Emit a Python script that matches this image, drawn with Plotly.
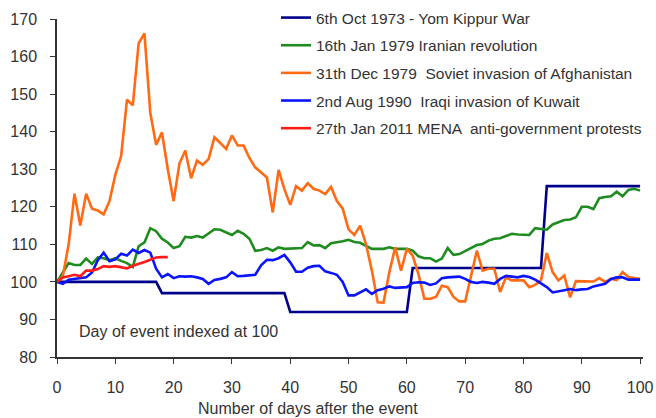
import plotly.graph_objects as go

days = list(range(0, 101))
mena_days = list(range(0, 20))

yom_kippur = [100, 100, 100, 100, 100, 100, 100, 100, 100, 100,
              100, 100, 100, 100, 100, 100, 100, 100, 97, 97,
              97, 97, 97, 97, 97, 97, 97, 97, 97, 97,
              97, 97, 97, 97, 97, 97, 97, 97, 97, 97,
              92, 92, 92, 92, 92, 92, 92, 92, 92, 92,
              92, 92, 92, 92, 92, 92, 92, 92, 92, 92,
              92, 103.7, 103.7, 103.7, 103.7, 103.7, 103.7, 103.7, 103.7, 103.7,
              103.7, 103.7, 103.7, 103.7, 103.7, 103.7, 103.7, 103.7, 103.7, 103.7,
              103.7, 103.7, 103.7, 103.7, 125.5, 125.5, 125.5, 125.5, 125.5, 125.5,
              125.5, 125.5, 125.5, 125.5, 125.5, 125.5, 125.5, 125.5, 125.5, 125.5,
              125.5]

iran = [100, 102.5, 105, 104.5, 104.5, 106.2, 104.8, 106.5, 106.3, 105.8,
        106.3, 105.6, 105, 104, 109.5, 110.5, 114.3, 113.5, 111.5, 110.5,
        109, 109.5, 112, 111.8, 112.2, 111.8, 113, 114, 113.9, 113.2,
        112.5, 113.6, 112.8, 111.5, 108.3, 108.5, 109, 108.3, 109.2, 108.8,
        108.8, 108.8, 109, 110.6, 109.7, 109.8, 109, 110.3, 110.5, 110.8,
        111.2, 110.6, 110.4, 109.5, 108.8, 108.8, 108.8, 109.2, 108.8, 108.8,
        108.8, 108.3, 106.8, 106.3, 106.3, 105.4, 106.2, 109, 107.2, 107.4,
        108.2, 108.8, 109.8, 110.1, 111, 111.5, 111.6, 112.2, 112.8, 112.6,
        112.5, 112.5, 114.3, 114, 113.9, 115.3, 116, 116.5, 116.6, 117.2,
        120, 120, 119.4, 122.3, 122.6, 122.8, 124, 122.8, 124.5, 124.8,
        124.3]

afghanistan = [100, 101.5, 110, 123.5, 115, 123.5, 119.5, 119, 118, 121.5,
               128.5, 133.5, 148.5, 147, 163.5, 166.2, 145, 136.5, 139.8, 130,
               121.5, 131.5, 135, 127.6, 132.3, 131.2, 132.7, 138.5, 137, 135.4,
               139, 136.3, 136.3, 133, 130.5, 129.2, 127.8, 118.5, 129.8, 124.7,
               120.5, 125.5, 124.3, 126.3, 124.8, 124.3, 123.4, 125.3, 121.5, 119.5,
               114, 112.5, 115, 110, 103, 94.6, 94.5, 102.6, 109.2, 103,
               108.8, 107, 102, 95.5, 95.5, 96, 99, 98.6, 96, 94.8,
               94.8, 101.5, 108.3, 103, 103.5, 103.5, 97.3, 101.2, 100.4, 100.4,
               100.4, 98.6, 99.2, 100.4, 107.7, 102.6, 100.4, 101.7, 95.9, 100.2,
               100.1, 100.1, 100.1, 101, 100, 100.8, 100.5, 102.6, 101.3, 101,
               100.8]

kuwait = [100, 99.5, 100.6, 100.8, 101, 101.2, 102.5, 105.8, 107.8, 105.5,
          106, 107.5, 107, 108.6, 107.7, 108.5, 107.8, 103.5, 101.2, 102.1,
          101, 101.5, 101.4, 101.5, 101.2, 100.8, 99.5, 100.5, 100.8, 101.2,
          102.6, 101.5, 101.6, 101.8, 101.9, 104.4, 105.9, 105.8, 106.3, 107.2,
          105.2, 102.7, 102.7, 103.8, 104.2, 104.3, 102.8, 102.4, 101.9, 100,
          96.4, 96.4, 97.2, 98, 96.8, 97.8, 98.2, 98.8, 98.4, 98.4,
          98.6, 99.7, 99.9, 99.8, 99.2, 99.6, 101, 101.2, 101.2, 101.4,
          100.8, 100, 99.7, 100, 99.8, 99.5, 100.8, 101.6, 101.4, 101.2,
          101.6, 101.3, 100.6, 99.6, 98.6, 97.2, 97.4, 97.8, 98.1, 97.8,
          98, 98.1, 98.8, 99.2, 99.5, 100.8, 101.2, 101.2, 100.6, 100.6,
          100.6]

mena = [100, 101.2, 101.5, 101.9, 101.5, 103, 103, 103.4, 104.2, 104,
        104.2, 103.8, 103.6, 104.3, 104.7, 105.3, 105.9, 106.5, 106.6, 106.6]

series_names = ["6th Oct 1973 - Yom Kippur War",
                "16th Jan 1979 Iranian revolution",
                "31th Dec 1979  Soviet invasion of Afghanistan",
                "2nd Aug 1990  Iraqi invasion of Kuwait",
                "27th Jan 2011 MENA  anti-government protests"]
series_colors = ["#00008B", "#1E8C1E", "#FF6A13", "#0A14FF", "#FF1A1A"]

x_ticks = [0, 10, 20, 30, 40, 50, 60, 70, 80, 90, 100]
y_ticks = [80, 90, 100, 110, 120, 130, 140, 150, 160, 170]

fig = go.Figure()
all_x = [days, days, days, days, mena_days]
all_y = [yom_kippur, iran, afghanistan, kuwait, mena]
for i, (xs, ys) in enumerate(zip(all_x, all_y)):
    fig.add_trace(go.Scatter(x=xs, y=ys, mode="lines", name=series_names[i],
                             legendgroup=str(i),
                             line=dict(color=series_colors[i], width=2.6)))

font_family = "Arial, Liberation Sans, sans-serif"
fs = 16
fig.update_layout(
    width=656, height=418,
    margin=dict(l=57, r=0, t=1, b=61),
    paper_bgcolor="white", plot_bgcolor="white",
    font=dict(family=font_family, size=fs, color="#333333"),
    showlegend=True,
    legend=dict(x=0.3656, y=1.0, xanchor="left", yanchor="top",
                bgcolor="rgba(0,0,0,0)", font=dict(size=15.5, color="#333333"),
                traceorder="grouped", tracegroupgap=4.5),
    xaxis=dict(range=[0, 100.5], tickvals=x_ticks, showgrid=False, zeroline=False,
               domain=[0, 0.9783],
               showline=True, linecolor="#333333", linewidth=1.5, automargin=False,
               ticks="outside", ticklen=5, tickcolor="#333333",
               ticklabelstandoff=10, tickfont=dict(size=fs, color="#333333")),
    yaxis=dict(range=[80, 170], tickvals=y_ticks, showgrid=False, zeroline=False,
               domain=[0, 0.9494], automargin=False,
               showline=True, linecolor="#333333", linewidth=1.5,
               ticks="outside", ticklen=5, tickcolor="#333333",
               ticklabelstandoff=10, tickfont=dict(size=fs, color="#333333")),
    annotations=[
        dict(text="Day of event indexed at 100", x=3.4, y=86.7, xref="x", yref="y",
             xanchor="left", yanchor="middle", showarrow=False,
             font=dict(size=fs, color="#333333")),
        dict(text="Number of days after the event", x=0.419, y=-0.145,
             xref="paper", yref="paper", xanchor="center", yanchor="middle",
             showarrow=False, font=dict(size=fs, color="#333333")),
    ],
)

fig.write_html("out.html", config={"displayModeBar": False},
               post_script="document.body.style.margin='0';")
